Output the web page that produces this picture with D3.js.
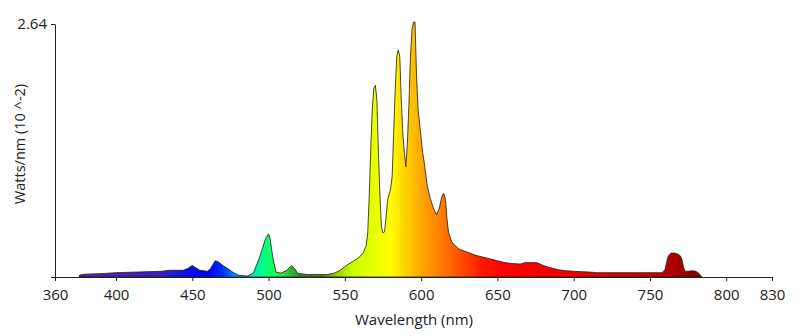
<!DOCTYPE html>
<html><head><meta charset="utf-8">
<script src="https://cdn.jsdelivr.net/npm/d3@7"></script>
<style>body{margin:0;background:#fff}svg{display:block}text{font-family:"Open Sans",sans-serif;fill:#222}</style>
</head><body>
<svg id="c" width="800" height="336"></svg>
<script>
const wavelengths = [376,380,390,400,410,420,430,435,444,447,450,452,455,460,462,465,467,470,474,476,480,486,490,492,494,496,498,500,501,503,505,508,512,515,517,519,525,538,543,547,551,555,559,562,564,565,566,567,568,569,570,571,572,573,574,575,576,577,578,580,581,582,583,584,585,586,587,588,589,590,591,592,593,594,595,596,597,598,599,600,601,602,604,606,608,610,612,613,614,615,616,617,618,620,622,625,630,635,640,645,650,655,660,665,668,672,676,680,684,690,695,700,705,710,715,740,758,760,761,762,764,766,768,770,771,772,773,775,778,780,782,784];
const watts = [0.02,0.03,0.035,0.045,0.05,0.055,0.06,0.07,0.07,0.09,0.12,0.10,0.07,0.06,0.09,0.17,0.16,0.12,0.08,0.055,0.02,0.01,0.04,0.12,0.20,0.30,0.40,0.45,0.40,0.18,0.05,0.04,0.07,0.12,0.09,0.04,0.025,0.025,0.04,0.07,0.12,0.16,0.20,0.25,0.33,0.46,0.85,1.35,1.75,1.97,2.00,1.85,1.30,0.85,0.52,0.46,0.47,0.62,0.80,0.92,1.05,1.50,1.95,2.30,2.37,2.30,1.85,1.50,1.30,1.15,1.40,1.80,2.30,2.58,2.66,2.66,2.10,1.75,1.60,1.45,1.30,1.20,0.95,0.82,0.72,0.65,0.72,0.80,0.86,0.87,0.80,0.60,0.46,0.37,0.33,0.29,0.26,0.23,0.21,0.19,0.17,0.15,0.14,0.135,0.15,0.15,0.15,0.12,0.10,0.075,0.065,0.06,0.055,0.052,0.045,0.045,0.045,0.08,0.16,0.22,0.25,0.25,0.24,0.22,0.18,0.10,0.06,0.06,0.065,0.06,0.04,0.0];
const xTicks = [360,400,450,500,550,600,650,700,750,800,830];
const yTicks = [0, 2.64];
const xTitle = "Wavelength (nm)";
const yTitle = "Watts/nm (10 ^-2)";

const spectrumStops = [
  [376,"#5a1e9a"],[400,"#4f22b0"],[430,"#3a1cc8"],[445,"#1010f0"],[460,"#0000ff"],[470,"#0030ff"],
  [478,"#0090ff"],[488,"#00e0c0"],[496,"#00ff90"],[502,"#10ff60"],[510,"#30e040"],[520,"#2f8a2a"],
  [535,"#3a8a20"],[545,"#90d800"],[555,"#c8ff00"],[570,"#e8ff00"],[580,"#ffff00"],[590,"#ffd000"],
  [600,"#ffa800"],[612,"#ff8000"],[625,"#ff5000"],[640,"#ff1800"],[655,"#ff0000"],[700,"#f00000"],
  [745,"#d00000"],[765,"#b00000"],[785,"#7a0000"]
];

const svg = d3.select("#c");
const x = d3.scaleLinear().domain([360,830]).range([55,772]);
const y = d3.scaleLinear().domain([0,2.64]).range([277,24]);

const defs = svg.append("defs");
const grad = defs.append("linearGradient").attr("id","spec").attr("gradientUnits","userSpaceOnUse")
  .attr("x1",x(360)).attr("x2",x(830)).attr("y1",0).attr("y2",0);
grad.selectAll("stop").data(spectrumStops).join("stop")
  .attr("offset",d=>(d[0]-360)/(830-360)).attr("stop-color",d=>d[1]);

const pts = wavelengths.map((w,i)=>[w,watts[i]]);
const area = d3.area().x(d=>x(d[0])).y0(y(0)).y1(d=>y(d[1])).curve(d3.curveLinear);
svg.append("path").datum(pts).attr("d",area).attr("fill","url(#spec)")
  .attr("stroke","rgba(30,30,10,0.8)").attr("stroke-width",1).attr("stroke-linejoin","round");

// x axis
const xa = svg.append("g").attr("transform",`translate(0,${y(0)})`)
  .call(d3.axisBottom(x).tickValues(xTicks).tickSize(4).tickSizeOuter(0).tickFormat(d3.format("d")));
xa.select(".domain").attr("d",`M51,0.5H${x(830)}`).attr("stroke","#222");
xa.selectAll(".tick line").attr("stroke","#222");
xa.selectAll("text").attr("font-size",15).attr("dy","1.05em").attr("fill","#222");

// y axis
const ya = svg.append("g").attr("transform",`translate(${x(360)},0)`)
  .call(d3.axisLeft(y).tickValues(yTicks).tickSize(4).tickSizeOuter(0).tickFormat(d=>d===0?"":d3.format(".2f")(d)));
ya.select(".domain").attr("stroke","#222");
ya.selectAll(".tick line").attr("stroke","#222");
ya.selectAll("text").attr("font-size",15).attr("fill","#222").attr("x",-8);

svg.append("text").attr("x",414).attr("y",325).attr("text-anchor","middle").attr("font-size",15).text(xTitle);
svg.append("text").attr("transform","translate(20,144) rotate(-90)").attr("text-anchor","middle")
  .attr("dy","0.35em").attr("font-size",14.5).text(yTitle);
</script>
</body></html>
